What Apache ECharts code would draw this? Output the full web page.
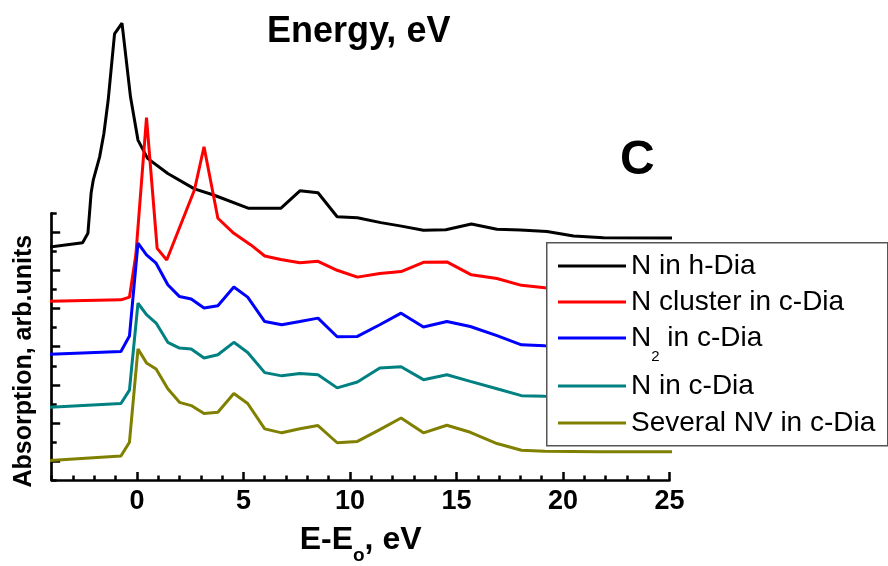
<!DOCTYPE html>
<html>
<head>
<meta charset="utf-8">
<script src="https://cdn.jsdelivr.net/npm/echarts@6/dist/echarts.min.js"></script>
<style>
  html, body { margin: 0; padding: 0; background: #fff; }
  #chart { width: 888px; height: 566px; }
</style>
</head>
<body>
<div id="chart"></div>
<script>
// energies (E - Eo, eV) shared by the three lower c-Dia spectra
const gridEnergy = [-4.2, -0.75, -0.35, 0.05, 0.45, 0.9, 1.45, 2.0, 2.55, 3.15, 3.8, 4.55, 5.2, 6.0, 6.8,
  7.65, 8.5, 9.4, 10.35, 11.4, 12.4, 13.45, 14.55, 15.65, 16.9, 18.05, 19.15, 21.7, 26.2]

const hDiaEnergy = [-4.15, -2.55, -2.3, -2.15, -2.05, -1.75, -1.55, -1.35, -1.05, -0.7, -0.3, 0.05, 0.5,
  1.45, 2.7, 3.6, 5.25, 6.75, 7.65, 8.5, 9.4, 10.35, 11.45, 12.35, 13.45, 14.5, 15.7, 16.9, 18.0, 19.25,
  20.5, 21.9, 26.2]
const hDiaAbs = [12.22, 12.46, 12.95, 15.06, 15.74, 16.96, 18.19, 19.93, 23.42, 23.98, 20.10, 17.84, 16.88,
  16.09, 15.28, 14.96, 14.26, 14.26, 15.18, 15.08, 13.82, 13.77, 13.51, 13.34, 13.11, 13.14, 13.44, 13.16,
  13.13, 13.04, 12.81, 12.72, 12.69]

const clusterEnergy = [-4.15, -0.75, -0.35, -0.05, 0.45, 0.95, 1.4, 2.7, 3.15, 3.8, 4.55, 5.35, 6.0, 6.75,
  7.65, 8.5, 9.4, 10.35, 11.4, 12.4, 13.45, 14.55, 15.7, 16.9, 18.05, 19.15, 21.7, 26.2]
const clusterAbs = [9.39, 9.46, 9.60, 11.82, 19.02, 12.16, 11.55, 15.22, 17.49, 13.74, 12.95, 12.34, 11.76,
  11.58, 11.41, 11.48, 11.01, 10.65, 10.84, 10.94, 11.43, 11.45, 10.77, 10.58, 10.22, 10.09, 9.98, 9.98]

const n2Abs = [6.60, 6.75, 7.56, 12.43, 11.82, 11.38, 10.25, 9.63, 9.50, 9.03, 9.15, 10.13, 9.60, 8.32, 8.15,
  8.32, 8.50, 7.52, 7.54, 8.15, 8.76, 8.03, 8.32, 8.06, 7.58, 7.10, 7.05, 7.0, 7.0]
const nCDiaAbs = [3.81, 4.02, 4.72, 9.28, 8.68, 8.24, 7.23, 6.93, 6.88, 6.41, 6.58, 7.23, 6.70, 5.64, 5.47,
  5.59, 5.53, 4.84, 5.15, 5.88, 5.95, 5.27, 5.53, 5.18, 4.79, 4.43, 4.40, 4.38, 4.38]
const nvAbs = [1.02, 1.26, 1.99, 6.88, 6.15, 5.83, 4.79, 4.08, 3.91, 3.49, 3.56, 4.54, 4.02, 2.69, 2.48,
  2.69, 2.86, 1.96, 2.03, 2.65, 3.26, 2.48, 2.88, 2.51, 1.92, 1.57, 1.52, 1.49, 1.48]

const xMajorTicks = [0, 5, 10, 15, 20, 25]
const xMinorTicks = [-4, -3, -2, -1, 0, 1, 2, 3, 4, 5, 6, 7, 8, 9, 10, 11, 12, 13, 14, 15, 16, 17, 18, 19,
  20, 21, 22, 23, 24, 25]
const yLongTicks = [1, 3, 5, 7, 9, 11, 13]
const yShortTicks = [0, 2, 4, 6, 8, 10, 12, 14]

const FONT = '"Liberation Sans", Arial, sans-serif'

const zip = (xs, ys) => xs.map((x, i) => [x, ys[i]])

function line(name, xs, ys, color) {
  return {
    name,
    type: 'line',
    data: zip(xs, ys),
    symbol: 'none',
    clip: false,
    lineStyle: { width: 3, color },
    itemStyle: { color },
    emphasis: { disabled: true },
  }
}

// subscript token: negative height pushes it below the baseline without growing the line
const legendText = {
  fontFamily: FONT,
  fontSize: 28,
  color: '#000',
  lineHeight: 30,
  rich: {
    t: { fontFamily: FONT, fontSize: 28, color: '#000', lineHeight: 30 },
    s: { fontFamily: FONT, fontSize: 15, color: '#000', lineHeight: 30, height: -8, verticalAlign: 'bottom' },
  },
}
const legendFormat = (name) => (name === 'N2 in c-Dia' ? '{t|N}{s|2}{t| in c-Dia}' : name)

const legendBase = {
  orient: 'vertical', left: 558, padding: 0, z: 20,
  icon: 'rect', itemWidth: 68, itemHeight: 3, selectedMode: false,
  formatter: legendFormat, textStyle: legendText,
}

const tickStyle = { color: '#000', width: 2.5 }

const chart = echarts.init(document.getElementById('chart'))
chart.setOption({
  backgroundColor: '#fff',
  animation: false,
  title: [
    { text: 'Energy, eV', left: 267, top: 14, padding: 0,
      textStyle: { fontFamily: FONT, fontSize: 36, fontWeight: 'bold', color: '#000' } },
    { text: 'C', left: 620, top: 137, padding: 0,
      textStyle: { fontFamily: FONT, fontSize: 48, fontWeight: 'bold', color: '#000' } },
  ],
  grid: { left: 51.7, right: 218.5, top: 213.3, bottom: 85.3, containLabel: false },
  xAxis: [
    {
      type: 'value', min: -4, max: 25, position: 'bottom',
      name: 'E-E{s|o}, eV', nameLocation: 'middle', nameGap: 41,
      nameTextStyle: {
        fontFamily: FONT, fontSize: 32, fontWeight: 'bold', color: '#000', lineHeight: 36,
        rich: { s: { fontFamily: FONT, fontSize: 19, fontWeight: 'bold', color: '#000', lineHeight: 36, padding: [30, 0, 0, 0] } },
      },
      axisLine: { show: true, onZero: false, lineStyle: { color: '#000', width: 2.7 } },
      axisTick: { show: true, inside: true, length: 8, customValues: xMajorTicks, lineStyle: tickStyle },
      axisLabel: { customValues: xMajorTicks, margin: 8, fontFamily: FONT, fontSize: 27, fontWeight: 'bold', color: '#000' },
      splitLine: { show: false },
    },
    {
      type: 'value', min: -4, max: 25, position: 'bottom',
      axisLine: { show: false, onZero: false },
      axisTick: { show: true, inside: true, length: 4.5, customValues: xMinorTicks, lineStyle: tickStyle },
      axisLabel: { show: false },
      splitLine: { show: false },
    },
  ],
  yAxis: [
    {
      type: 'value', min: 0, max: 14, position: 'left',
      name: 'Absorption, arb.units', nameLocation: 'middle', nameRotate: 90, nameGap: 15,
      nameTextStyle: { fontFamily: FONT, fontSize: 25, fontWeight: 'bold', color: '#000', padding: [0, 29, 0, 0] },
      axisLine: { show: true, onZero: false, lineStyle: { color: '#000', width: 2.7 } },
      axisTick: { show: true, inside: true, length: 8.5, customValues: yLongTicks, lineStyle: tickStyle },
      axisLabel: { show: false },
      splitLine: { show: false },
    },
    {
      type: 'value', min: 0, max: 14, position: 'left',
      axisLine: { show: false, onZero: false },
      axisTick: { show: true, inside: true, length: 5, customValues: yShortTicks, lineStyle: tickStyle },
      axisLabel: { show: false },
      splitLine: { show: false },
    },
  ],
  graphic: [
    {
      type: 'rect', left: 546, top: 242, z: 10,
      shape: { width: 341, height: 203 },
      style: { fill: '#fff', stroke: '#555', lineWidth: 1.5 },
    },
  ],
  legend: [
    { ...legendBase, top: 251, itemGap: 6, data: ['N in h-Dia', 'N cluster in c-Dia', 'N2 in c-Dia'] },
    { ...legendBase, top: 371, itemGap: 7, data: ['N in c-Dia', 'Several NV in c-Dia'] },
  ],
  series: [
    line('N in h-Dia', hDiaEnergy, hDiaAbs, '#000000'),
    line('N cluster in c-Dia', clusterEnergy, clusterAbs, '#ff0000'),
    line('N2 in c-Dia', gridEnergy, n2Abs, '#0000ff'),
    line('N in c-Dia', gridEnergy, nCDiaAbs, '#008080'),
    line('Several NV in c-Dia', gridEnergy, nvAbs, '#808000'),
  ],
})
</script>
</body>
</html>
